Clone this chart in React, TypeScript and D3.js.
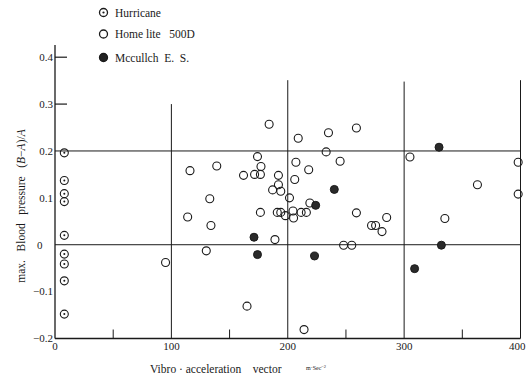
import React from "react";
import * as d3 from "d3";

const hurricaneX = [8, 8, 8, 8, 8, 8, 8, 8, 8];
const hurricaneY = [0.196, 0.137, 0.109, 0.092, 0.02, -0.02, -0.041, -0.077, -0.148];

const homeliteX = [116, 139, 162, 133, 114, 134, 130, 95, 165, 184, 209, 233, 174, 177, 207, 218, 171.5, 176.5, 192, 206, 192, 187, 194, 201.5, 219, 176.5, 191, 194, 198, 204.5, 205, 211.5, 216, 189, 214, 235, 259, 245, 259, 285, 272, 275.5, 281, 248, 255, 305, 398, 363, 398, 335];
const homeliteY = [0.158, 0.168, 0.148, 0.098, 0.059, 0.041, -0.013, -0.038, -0.131, 0.257, 0.227, 0.198, 0.188, 0.167, 0.176, 0.16, 0.15, 0.15, 0.148, 0.139, 0.128, 0.117, 0.114, 0.1, 0.089, 0.069, 0.069, 0.069, 0.062, 0.072, 0.057, 0.069, 0.069, 0.011, -0.181, 0.239, 0.249, 0.178, 0.068, 0.058, 0.041, 0.041, 0.028, -0.001, -0.001, 0.187, 0.176, 0.128, 0.108, 0.056];

const mccullochX = [171, 174, 224, 223, 240, 330, 332, 309];
const mccullochY = [0.016, -0.021, 0.084, -0.024, 0.118, 0.208, -0.001, -0.051];

const yTickLabels = ["0.4", "0.3", "0.2", "0.1", "0", "−0.1", "−0.2"];
const yTickValues = [0.4, 0.3, 0.2, 0.1, 0, -0.1, -0.2];
const xTickValues = [0, 100, 200, 300, 400];
const xMinorTicks = [50, 150, 250, 350];
const legendLabels = ["Hurricane", "Home lite   500D", "Mccullch  E.  S."];

const W = 526;
const H = 377;
const FONT = "'Liberation Serif', 'DejaVu Serif', serif";
const INK = "#1a1a1a";

export default function App() {
  const x = d3.scaleLinear().domain([0, 400]).range([55, 520.5]);
  const y = d3.scaleLinear().domain([-0.2, 0.4]).range([338.5, 57.2]);
  const r = 4;

  const vLineTop: Record<number, number> = { 100: 0.3, 200: 0.351, 300: 0.348, 400: 0.351 };

  return (
    <svg
      width={W}
      height={H}
      viewBox={`0 0 ${W} ${H}`}
      style={{ position: "absolute", left: 0, top: 0, background: "#fff" }}
      fontFamily={FONT}
    >
      <rect x={0} y={0} width={W} height={H} fill="#fff" />
      {/* y axis */}
      <line x1={x(0)} x2={x(0)} y1={45} y2={y(-0.2)} stroke={INK} strokeWidth={1.3} />
      {/* x axis */}
      <line x1={x(0)} x2={x(400)} y1={y(-0.2)} y2={y(-0.2)} stroke={INK} strokeWidth={1.3} />
      {/* y major ticks at 0.4, 0.3 */}
      {[0.4, 0.3].map((v) => (
        <line key={"yt" + v} x1={x(0)} x2={x(0) + 12} y1={y(v)} y2={y(v)} stroke={INK} strokeWidth={1.2} />
      ))}
      {/* horizontal reference lines */}
      {[0.2, 0].map((v) => (
        <line key={"h" + v} x1={x(0)} x2={x(400)} y1={y(v)} y2={y(v)} stroke={INK} strokeWidth={1} />
      ))}
      {/* vertical reference lines */}
      {xTickValues.filter((v) => v > 0).map((v) => (
        <line key={"v" + v} x1={x(v)} x2={x(v)} y1={y(vLineTop[v])} y2={y(-0.2)} stroke={INK} strokeWidth={1} />
      ))}
      {/* minor x ticks */}
      {xMinorTicks.map((v) => (
        <line key={"m" + v} x1={x(v)} x2={x(v)} y1={y(-0.2)} y2={y(-0.2) - 9} stroke={INK} strokeWidth={1} />
      ))}
      {/* y tick labels */}
      {yTickValues.map((v, i) => (
        <text
          key={"yl" + v}
          x={v === 0 ? 37 : x(0) - 2}
          y={y(v)}
          dy="0.35em"
          textAnchor={v === 0 ? "start" : "end"}
          fontSize={11}
          fill={INK}
        >
          {yTickLabels[i]}
        </text>
      ))}
      {/* x tick labels */}
      {xTickValues.map((v) => (
        <text
          key={"xl" + v}
          x={v === 400 ? W - 0.5 : x(v)}
          y={y(-0.2) + 11}
          textAnchor={v === 400 ? "end" : "middle"}
          fontSize={11}
          fill={INK}
        >
          {v}
        </text>
      ))}
      {/* axis titles */}
      <text x={150} y={373} fontSize={11.5} fill={INK} style={{ whiteSpace: "pre" }}>
        {"Vibro · acceleration    vector"}
      </text>
      <text x={306} y={370} fontSize={6} fill={INK} style={{ whiteSpace: "pre" }}>
        {"m·Sec"}
        <tspan dy={-2} fontSize={4.5}>−2</tspan>
      </text>
      <text
        transform="translate(25,206) rotate(-90)"
        textAnchor="middle"
        fontSize={11.5}
        fill={INK}
        style={{ whiteSpace: "pre" }}
      >
        {"max.   Blood   pressure   ("}
        <tspan fontStyle="italic">B</tspan>
        {"−"}
        <tspan fontStyle="italic">A</tspan>
        {")/"}
        <tspan fontStyle="italic">A</tspan>
      </text>
      {/* legend */}
      {legendLabels.map((lab, i) => {
        const ly = [12.5, 34, 57.5][i];
        return (
          <g key={"lg" + i}>
            <circle
              cx={103.5}
              cy={ly}
              r={4}
              fill={i === 2 ? "#222" : "#fff"}
              stroke={INK}
              strokeWidth={1.3}
            />
            {i === 0 && <circle cx={103.5} cy={ly} r={1.1} fill={INK} />}
            <text x={115} y={ly} dy="0.35em" fontSize={11.5} fill={INK} style={{ whiteSpace: "pre" }}>
              {lab}
            </text>
          </g>
        );
      })}
      {/* Homelite points */}
      {homeliteX.map((v, i) => (
        <circle key={"ho" + i} cx={x(v)} cy={y(homeliteY[i])} r={r} fill="none" stroke={INK} strokeWidth={1.1} />
      ))}
      {/* Hurricane points */}
      {hurricaneX.map((v, i) => (
        <g key={"hu" + i}>
          <circle cx={x(v)} cy={y(hurricaneY[i])} r={r} fill="none" stroke={INK} strokeWidth={1.1} />
          <circle cx={x(v)} cy={y(hurricaneY[i])} r={1} fill={INK} />
        </g>
      ))}
      {/* Mcculloch points */}
      {mccullochX.map((v, i) => (
        <circle key={"mc" + i} cx={x(v)} cy={y(mccullochY[i])} r={r} fill="#2a2a2a" stroke={INK} strokeWidth={1} />
      ))}
    </svg>
  );
}
